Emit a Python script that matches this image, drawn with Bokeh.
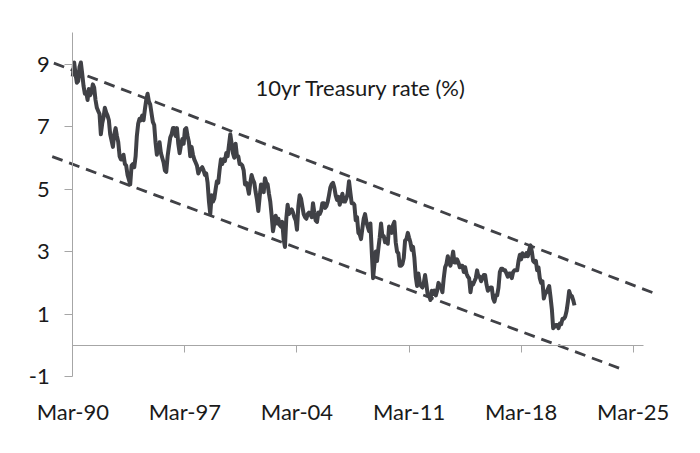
import pandas as pd
from bokeh.plotting import figure
from bokeh.models import (Range1d, LinearAxis, FixedTicker, DatetimeTickFormatter,
                          CustomJSTickFormatter, Label)
from bokeh.embed import file_html
from bokeh.resources import INLINE

# ---- data -------------------------------------------------------------
start_month = "1990-03-01"
rates_10y = [
    # 1990 (Mar-Dec)
    8.6, 9.05, 8.7, 8.4, 8.45, 8.9, 9.05, 8.7, 8.3, 8.05,
    # 1991
    8.1, 7.85, 8.2, 8.0, 8.1, 8.35, 8.25, 7.85, 7.6, 7.5, 7.4, 6.75,
    # 1992
    7.1, 7.3, 7.6, 7.45, 7.35, 7.2, 6.75, 6.55, 6.35, 6.75, 6.95, 6.7,
    # 1993
    6.5, 6.05, 5.95, 5.95, 6.1, 5.8, 5.75, 5.45, 5.3, 5.15, 5.75, 5.8,
    # 1994
    5.7, 6.05, 6.7, 7.1, 7.25, 7.2, 7.35, 7.2, 7.55, 7.85, 8.05, 7.8,
    # 1995
    7.7, 7.4, 7.15, 7.05, 6.5, 6.1, 6.35, 6.5, 6.15, 6.0, 5.85, 5.6,
    # 1996
    5.55, 6.05, 6.35, 6.65, 6.75, 6.95, 6.95, 6.7, 6.95, 6.45, 6.15, 6.4,
    # 1997
    6.6, 6.45, 6.9, 6.95, 6.7, 6.5, 6.05, 6.35, 6.1, 5.95, 5.85, 5.75,
    # 1998
    5.5, 5.6, 5.65, 5.7, 5.6, 5.45, 5.5, 5.2, 4.6, 4.2, 4.8, 4.6,
    # 1999
    4.7, 5.0, 5.25, 5.2, 5.6, 5.95, 5.8, 5.95, 5.9, 6.15, 6.05, 6.4,
    # 2000
    6.75, 6.45, 6.15, 6.0, 6.45, 6.05, 6.05, 5.8, 5.8, 5.75, 5.6, 5.15,
    # 2001
    5.2, 5.05, 4.85, 5.2, 5.45, 5.3, 5.2, 4.9, 4.65, 4.3, 4.75, 5.15,
    # 2002
    5.05, 4.9, 5.35, 5.2, 5.15, 4.85, 4.6, 4.15, 3.65, 3.9, 4.15, 3.9,
    # 2003
    4.05, 3.85, 3.8, 3.95, 3.4, 3.15, 4.05, 4.5, 4.2, 4.3, 4.35, 4.25,
    # 2004
    4.1, 4.0, 3.7, 4.45, 4.8, 4.7, 4.45, 4.2, 4.1, 4.05, 4.2, 4.25,
    # 2005
    4.2, 4.1, 4.55, 4.25, 4.0, 3.95, 4.25, 4.2, 4.3, 4.55, 4.55, 4.4,
    # 2006
    4.45, 4.6, 4.8, 5.05, 5.15, 5.2, 5.05, 4.8, 4.65, 4.75, 4.5, 4.65,
    # 2007
    4.85, 4.6, 4.6, 4.7, 4.85, 5.25, 4.9, 4.55, 4.55, 4.5, 4.0, 4.1,
    # 2008
    3.6, 3.55, 3.4, 3.75, 4.05, 4.2, 3.95, 3.8, 3.65, 3.9, 3.0, 2.15,
    # 2009
    2.6, 3.0, 2.7, 3.1, 3.45, 3.9, 3.5, 3.5, 3.3, 3.4, 3.25, 3.8,
    # 2010
    3.65, 3.6, 3.85, 3.95, 3.3, 3.0, 2.95, 2.55, 2.55, 2.6, 2.8, 3.35,
    # 2011
    3.4, 3.6, 3.45, 3.3, 3.05, 3.15, 2.8, 2.2, 1.9, 2.3, 2.0, 1.9,
    # 2012
    1.85, 2.0, 2.25, 1.95, 1.6, 1.6, 1.45, 1.75, 1.65, 1.75, 1.6, 1.75,
    # 2013
    2.0, 1.9, 1.85, 1.7, 2.15, 2.5, 2.6, 2.85, 2.65, 2.55, 2.75, 3.0,
    # 2014
    2.65, 2.65, 2.75, 2.65, 2.5, 2.55, 2.55, 2.35, 2.5, 2.3, 2.2, 2.15,
    # 2015
    1.7, 2.0, 1.95, 2.05, 2.15, 2.4, 2.2, 2.2, 2.05, 2.15, 2.25, 2.25,
    # 2016
    1.95, 1.75, 1.8, 1.85, 1.85, 1.5, 1.4, 1.6, 1.6, 1.85, 2.35, 2.45,
    # 2017
    2.45, 2.4, 2.4, 2.3, 2.2, 2.3, 2.3, 2.15, 2.35, 2.4, 2.4, 2.4,
    # 2018
    2.7, 2.9, 2.75, 2.95, 2.85, 2.85, 2.95, 2.85, 3.05, 3.2, 3.0, 2.7,
    # 2019
    2.65, 2.7, 2.4, 2.5, 2.15, 2.0, 2.05, 1.5, 1.65, 1.7, 1.8, 1.9,
    # 2020
    1.55, 1.15, 0.55, 0.6, 0.65, 0.65, 0.55, 0.7, 0.68, 0.85, 0.85, 0.92,
    # 2021 (Jan-Jul)
    1.1, 1.4, 1.74, 1.6, 1.58, 1.45, 1.28,
]

upper_trend_dates = ["1988-12-24", "2026-08-14"]
upper_trend_values = [9.03, 1.64]
lower_trend_dates = ["1988-11-17", "2024-07-24"]
lower_trend_values = [6.04, -0.78]

tick_dates = ["1990-03-01", "1997-03-01", "2004-03-01", "2011-03-01",
              "2018-03-01", "2025-03-01"]
y_ticks = [-1, 1, 3, 5, 7, 9]
y_tick_labels = ["-1", "1", "3", "5", "7", "9"]
title_text = "10yr Treasury rate (%)"

# ---- helpers ------------------------------------------------------------
def ms(d):
    return pd.Timestamp(d).value / 1e6

dates = pd.date_range(start_month, periods=len(rates_10y), freq="MS")
tick_ms = [ms(d) for d in tick_dates]

FONT = "Lato"
FONT_SIZE = "22px"
AXIS_GRAY = "#A6A6A6"
LINE_COLOR = "#404146"
TEXT_COLOR = "#1a1a1a"

# geometry: frame spans page x 8..692 and page y 8..388
mar90 = tick_ms[0]
mar25 = tick_ms[-1]
px_per_ms = (632.7 - 72.3) / (mar25 - mar90)
x_start = mar90 - (72.3 - 8) / px_per_ms
x_end = mar90 + (692 - 72.3) / px_per_ms
axis_end = mar90 + (643 - 72.3) / px_per_ms
px_per_unit = 31.18
y_end = (345 - 8) / px_per_unit
y_start = -(388 - 345) / px_per_unit

p = figure(width=692, height=444, x_axis_type="datetime", y_axis_location=None,
           x_range=Range1d(x_start, x_end), y_range=Range1d(y_start, y_end),
           output_backend="svg", toolbar_location=None,
           min_border_left=8, min_border_right=0, min_border_top=7,
           min_border_bottom=56)
p.outline_line_color = None
p.xgrid.visible = False
p.ygrid.visible = False
p.background_fill_color = "white"
p.border_fill_color = "white"

# bottom axis: labels only
xa = p.xaxis[0]
xa.ticker = FixedTicker(ticks=tick_ms)
xa.formatter = DatetimeTickFormatter(
    milliseconds="%b-%y", seconds="%b-%y", minsec="%b-%y", minutes="%b-%y",
    hourmin="%b-%y", hours="%b-%y", days="%b-%y", months="%b-%y", years="%b-%y")
xa.axis_line_color = None
xa.major_tick_line_color = None
xa.minor_tick_line_color = None
xa.major_label_standoff = 3
xa.major_label_text_font = FONT
xa.major_label_text_font_size = FONT_SIZE
xa.major_label_text_color = TEXT_COLOR

# axis line crossing at zero
zero_axis = LinearAxis(fixed_location=0, bounds=(mar90, axis_end),
                       ticker=FixedTicker(ticks=tick_ms),
                       formatter=CustomJSTickFormatter(code="return ''"),
                       axis_line_color=AXIS_GRAY, major_tick_line_color=AXIS_GRAY,
                       major_tick_out=7, major_tick_in=0,
                       minor_tick_line_color=None)
p.add_layout(zero_axis, "below")

# y axis located at Mar-90
ya = LinearAxis(fixed_location=mar90, bounds=(-1, 10),
                ticker=FixedTicker(ticks=y_ticks),
                major_label_overrides=dict(zip(y_ticks, y_tick_labels)),
                axis_line_color=AXIS_GRAY, major_tick_line_color=AXIS_GRAY,
                major_tick_out=8, major_tick_in=0, minor_tick_line_color=None,
                major_label_standoff=15, major_label_text_font=FONT,
                major_label_text_font_size=FONT_SIZE,
                major_label_text_color=TEXT_COLOR)
p.add_layout(ya, "left")

# trend channel
p.line([pd.Timestamp(d) for d in upper_trend_dates], upper_trend_values,
       line_color=LINE_COLOR, line_width=2.8, line_dash="11 7")
p.line([pd.Timestamp(d) for d in lower_trend_dates], lower_trend_values,
       line_color=LINE_COLOR, line_width=2.8, line_dash="11 7")

# the rate series
p.line(dates, rates_10y, line_color=LINE_COLOR, line_width=4,
       line_join="round")

p.add_layout(Label(x=ms("2008-03-01"), y=8.25, text=title_text,
                   text_font=FONT, text_font_size=FONT_SIZE, text_align="center",
                   text_baseline="middle", text_color=TEXT_COLOR))

open("out.html", "w").write(file_html(p, INLINE))
